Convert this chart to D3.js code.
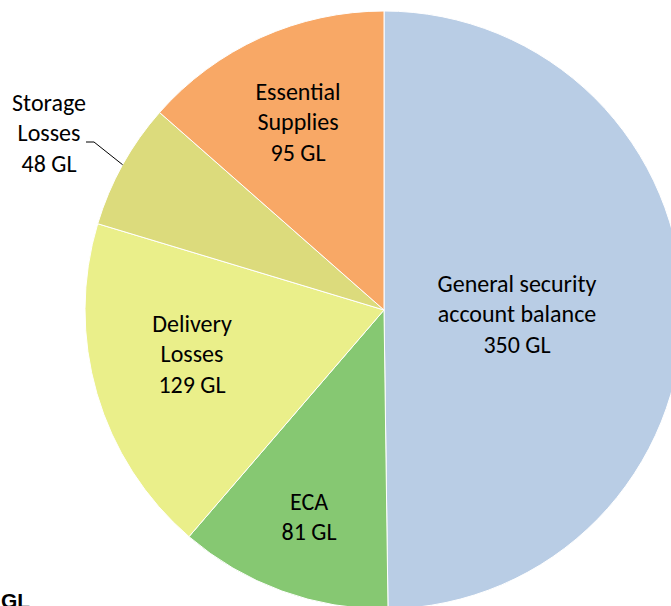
<!DOCTYPE html>
<html>
<head>
<meta charset="utf-8">
<script src="https://cdn.jsdelivr.net/npm/d3@7"></script>
<style>
  body { margin: 0; background: #fff; }
  svg { display: block; }
</style>
</head>
<body>
<div class="canvas"></div>
<script>
const svgWidth = 671;
const svgHeight = 606;

// data, clockwise from 12 o'clock
const categories = ['General security account balance', 'ECA', 'Delivery Losses', 'Storage Losses', 'Essential Supplies'];
const values = [350, 81, 129, 48, 95];
const labelLines = [
    ['General security', 'account balance', '350 GL'],
    ['ECA', '81 GL'],
    ['Delivery', 'Losses', '129 GL'],
    ['Storage', 'Losses', '48 GL'],
    ['Essential', 'Supplies', '95 GL']
];
const colours = ['#b9cde5', '#86c872', '#eaef8a', '#dcdb7c', '#f8a866'];

const cx = 384, cy = 310, radius = 299;

const svg = d3.select('.canvas')
    .append('svg')
        .attr('width', svgWidth)
        .attr('height', svgHeight);

const graphGroup = svg.append('g')
    .attr('transform', `translate(${cx},${cy})`);

const pie = d3.pie().sort(null).value(d => d.value);
const arc = d3.arc().innerRadius(0).outerRadius(radius);

const data = categories.map((c, i) => ({ name: c, value: values[i], lines: labelLines[i] }));
const arcs = pie(data);

graphGroup.selectAll('path')
    .data(arcs)
    .enter()
    .append('path')
        .attr('d', arc)
        .attr('fill', (d, i) => colours[i])
        .attr('stroke', '#fff')
        .attr('stroke-width', 1);

// label centres (inside slices, storage label sits outside)
const labelPos = [
    [517, 314], [309, 517], [192, 354], [49, 133], [298, 122]
];
const lineHeight = 30.5;

const labels = svg.selectAll('text.lbl')
    .data(arcs)
    .enter()
    .append('text')
        .attr('class', 'lbl')
        .attr('text-anchor', 'middle')
        .attr('font-family', 'Carlito, Calibri, "Open Sans", sans-serif')
        .attr('font-size', 24)
        .attr('fill', '#000');

labels.each(function(d, i) {
    const n = d.data.lines.length;
    const [lx, ly] = labelPos[i];
    d3.select(this).selectAll('tspan')
        .data(d.data.lines)
        .enter()
        .append('tspan')
            .attr('x', lx)
            .attr('y', (t, j) => ly + (j - (n - 1) / 2) * lineHeight + 8)
            .text(t => t);
});

// leader line for storage losses
const storage = arcs[3];
const edge = d3.arc().innerRadius(radius).outerRadius(radius).centroid(storage);
svg.append('path')
    .attr('d', d3.line()([[86, 142], [94, 142], [cx + edge[0], cy + edge[1]]]))
    .attr('fill', 'none')
    .attr('stroke', '#000')
    .attr('stroke-width', 1);

// cut-off title at bottom left
svg.append('text')
    .attr('x', 1)
    .attr('y', 608)
    .attr('font-family', 'Liberation Sans, Arial, sans-serif')
    .attr('font-weight', 'bold')
    .attr('font-size', 21)
    .text('GL');
</script>
</body>
</html>
